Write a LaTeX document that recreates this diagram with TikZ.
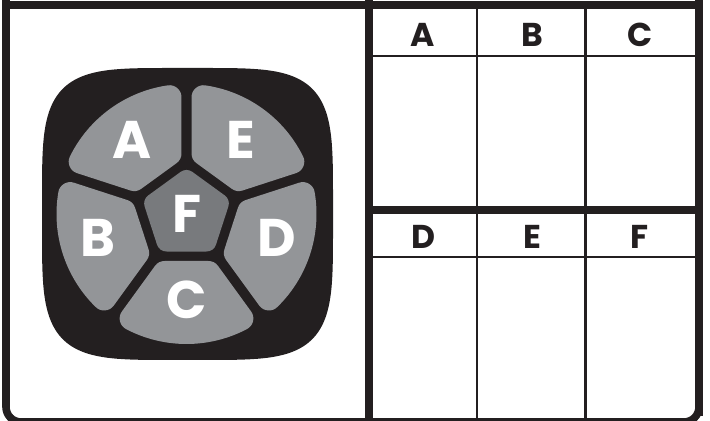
\documentclass[tikz,border=0pt]{standalone}
\usepackage{fontspec}
\setmainfont{Poppins}
\usepackage{xcolor}
\usepackage{tikz}
\definecolor{padblack}{RGB}{35, 31, 32}
\definecolor{petalgray}{RGB}{147, 149, 152}
\definecolor{centergray}{RGB}{120, 122, 125}

\begin{document}
\begin{tikzpicture}[
    x=0.5pt, y=0.5pt,
    frameline/.style={draw=padblack, line width=3.8pt},
    thinrule/.style={draw=padblack, line width=1.3pt},
    petal/.style={fill=petalgray, draw=petalgray, line width=12pt, line join=round},
    centerkey/.style={fill=centergray, draw=centergray, line width=10pt, line join=round},
    keylabel/.style={text=white, inner sep=0pt, font=\fontsize{26.5}{26.5}\selectfont\bfseries},
    headlabel/.style={text=padblack, inner sep=0pt, font=\fontsize{16.5}{16.5}\selectfont\bfseries}
]
    \useasboundingbox (0, 0) rectangle (710, 421);

    % Outer frame
    \draw[frameline] (6, 425) -- (6, 20) [rounded corners=7.5pt] -- (6, -1) -- (699, -1) -- (699, 20) [sharp corners] -- (699, 425);
    \draw[frameline] (6, 416) -- (699, 416);
    \draw[frameline] (369, 421) -- (369, -5);
    \draw[frameline] (369, 211) -- (699, 211);

    % Table rules
    \draw[thinrule] (369, 365) -- (699, 365);
    \draw[thinrule] (369, 164) -- (699, 164);
    \draw[thinrule] (477, 416) -- (477, -1);
    \draw[thinrule] (585.5, 416) -- (585.5, -1);

    % Table headers
    \node[headlabel] (headA) at (423, 386) {A};
    \node[headlabel] (headB) at (532, 386) {B};
    \node[headlabel] (headC) at (640, 386) {C};
    \node[headlabel] (headD) at (423, 184) {D};
    \node[headlabel] (headE) at (532, 184) {E};
    \node[headlabel] (headF) at (640, 184) {F};

    % Key pad
    \begin{scope}[shift={(186.5, 207)}]
        \fill[padblack] plot[domain=1:361, samples=181, variable=\t]
            ({1 + 145.5*cos(\t)*abs(cos(\t))^(-0.556)}, {146*sin(\t)*abs(sin(\t))^(-0.556)}) -- cycle;

        \draw[petal] (33.7:62.9) -- (26.3:118) arc[start angle=26.3, end angle=81.7, radius=118] -- (74.3:62.9) -- cycle;
        \draw[petal] (105.7:62.9) -- (98.3:118) arc[start angle=98.3, end angle=153.7, radius=118] -- (146.3:62.9) -- cycle;
        \draw[petal] (177.7:62.9) -- (170.3:118) arc[start angle=170.3, end angle=225.7, radius=118] -- (218.3:62.9) -- cycle;
        \draw[petal] (249.7:62.9) -- (242.3:118) arc[start angle=242.3, end angle=297.7, radius=118] -- (290.3:62.9) -- cycle;
        \draw[petal] (321.7:62.9) -- (314.3:118) arc[start angle=314.3, end angle=369.7, radius=118] -- (362.3:62.9) -- cycle;
        \draw[centerkey] (90:34) -- (162:34) -- (234:34) -- (306:34) -- (18:34) -- cycle;

        \node[keylabel] (keyA) at (126:92) {A};
        \node[keylabel] (keyE) at (54:92) {E};
        \node[keylabel] (keyB) at (195:92) {B};
        \node[keylabel] (keyD) at (345:93) {D};
        \node[keylabel] (keyC) at (270:86) {C};
        \node[keylabel] (keyF) at (0, 0) {F};
    \end{scope}
\end{tikzpicture}
\end{document}
